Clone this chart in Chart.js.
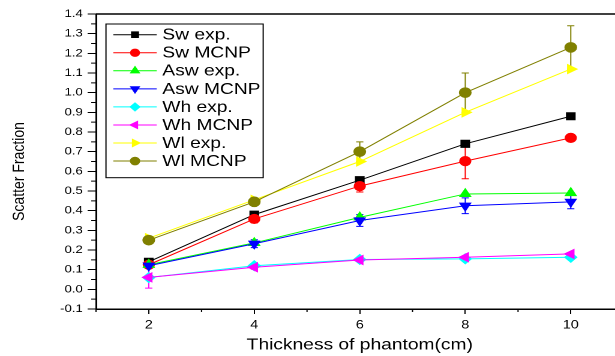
<!DOCTYPE html>
<html>
<head>
<meta charset="utf-8">
<script src="https://cdn.jsdelivr.net/npm/chart.js@4.4.1/dist/chart.umd.min.js"></script>
<style>
html, body { margin: 0; padding: 0; background: #fff; overflow: hidden; }
#wrap { width: 615px; height: 356px; overflow: hidden; position: relative; }
/* the source picture is stretched sideways, so the canvas is too */
#c { position: absolute; left: 0; top: 0; transform: scaleX(1.2); transform-origin: 0 0; }
</style>
</head>
<body>
<div id="wrap"><canvas id="c" width="530" height="356"></canvas></div>
<script>
// ---- data ----
const thickness = [2, 4, 6, 8, 10];
const xTicks = [2, 4, 6, 8, 10];
const yTicks = [-0.1, 0.0, 0.1, 0.2, 0.3, 0.4, 0.5, 0.6, 0.7, 0.8, 0.9, 1.0, 1.1, 1.2, 1.3, 1.4];

const names = ['Sw exp.', 'Sw MCNP', 'Asw exp.', 'Asw MCNP', 'Wh exp.', 'Wh MCNP', 'Wl exp.', 'Wl MCNP'];

const swExp   = [0.14, 0.38, 0.555, 0.74, 0.88];
const swMcnp  = [0.125, 0.358, 0.525, 0.652, 0.77];
const aswExp  = [0.125, 0.236, 0.366, 0.485, 0.49];
const aswMcnp = [0.12, 0.232, 0.35, 0.425, 0.445];
const whExp   = [0.06, 0.12, 0.152, 0.155, 0.163];
const whMcnp  = [0.061, 0.112, 0.149, 0.163, 0.18];
const wlExp   = [0.26, 0.455, 0.65, 0.90, 1.12];
const wlMcnp  = [0.25, 0.445, 0.70, 1.00, 1.23];

const swMcnpErr  = [0, 0.02, 0.03, 0.09, 0];
const aswMcnpErr = [0.01, 0.02, 0.03, 0.04, 0.035];
const whMcnpErr  = [0.055, 0.01, 0, 0, 0];
const wlMcnpErr  = [0.015, 0.01, 0.05, 0.10, 0.11];

const values = [swExp, swMcnp, aswExp, aswMcnp, whExp, whMcnp, wlExp, wlMcnp];
const errors = [null, swMcnpErr, null, aswMcnpErr, null, whMcnpErr, null, wlMcnpErr];

// ---- styles ----
const colors = ['#000000', '#ff0000', '#00ff00', '#0000ff', '#00ffff', '#ff00ff', '#ffff00', '#808000'];
const marks = [
  { style: 'rect', rot: 0, r: 5 },
  { style: 'circle', rot: 0, r: 4.6 },
  { style: 'triangle', rot: 0, r: 5.2 },
  { style: 'triangle', rot: 180, r: 5.2 },
  { style: 'rectRot', rot: 0, r: 5 },
  { style: 'triangle', rot: -90, r: 5.2 },
  { style: 'triangle', rot: 90, r: 5.2 },
  { style: 'circle', rot: 0, r: 4.8 }
];

const FONT = '"Liberation Sans", Arial, sans-serif';
Chart.defaults.font.family = FONT;
Chart.defaults.color = '#000';

const datasets = names.map((n, i) => ({
  label: n,
  data: thickness.map((x, j) => ({ x: x, y: values[i][j] })),
  borderColor: colors[i],
  backgroundColor: colors[i],
  borderWidth: 1,
  pointStyle: marks[i].style,
  rotation: marks[i].rot,
  pointRadius: marks[i].r,
  pointBorderWidth: 1,
  pointBorderColor: colors[i],
  pointBackgroundColor: colors[i],
  tension: 0,
  order: names.length - 1 - i
}));

const extras = {
  id: 'extras',
  beforeDatasetsDraw(chart) {
    const ctx = chart.ctx, xs = chart.scales.x, ys = chart.scales.y;
    ctx.save();
    ctx.lineWidth = 1;
    errors.forEach((err, i) => {
      if (!err) return;
      ctx.strokeStyle = colors[i];
      err.forEach((e, j) => {
        if (!e) return;
        const px = xs.getPixelForValue(thickness[j]);
        const top = ys.getPixelForValue(values[i][j] + e);
        const bot = ys.getPixelForValue(values[i][j] - e);
        ctx.beginPath();
        ctx.moveTo(px, top); ctx.lineTo(px, bot);
        ctx.moveTo(px - 3, top); ctx.lineTo(px + 3, top);
        ctx.moveTo(px - 3, bot); ctx.lineTo(px + 3, bot);
        ctx.stroke();
      });
    });
    ctx.restore();
  },
  afterDraw(chart) {
    const ctx = chart.ctx, a = chart.chartArea, xs = chart.scales.x, ys = chart.scales.y;
    ctx.save();
    // frame
    ctx.strokeStyle = '#000';
    ctx.lineWidth = 1.5;
    ctx.beginPath();
    ctx.moveTo(a.left, a.top); ctx.lineTo(a.right, a.top); ctx.lineTo(a.right, a.bottom);
    ctx.stroke();
    // minor ticks
    ctx.lineWidth = 1;
    ctx.beginPath();
    for (let k = 0; k < yTicks.length - 1; k++) {
      const py = ys.getPixelForValue((yTicks[k] + yTicks[k + 1]) / 2);
      ctx.moveTo(a.left - 4, py); ctx.lineTo(a.left, py);
    }
    for (let k = 0; k < xTicks.length; k++) {
      const px = xs.getPixelForValue(xTicks[k] - 1);
      ctx.moveTo(px, a.bottom); ctx.lineTo(px, a.bottom + 3);
    }
    ctx.stroke();

    // axis titles
    ctx.fillStyle = '#000';
    ctx.textAlign = 'center';
    ctx.textBaseline = 'middle';
    ctx.font = '16px ' + FONT;
    ctx.fillText('Thickness of phantom(cm)', (a.left + a.right) / 2, 345);
    ctx.save();
    ctx.translate(16, 171.5);
    ctx.rotate(-Math.PI / 2);
    ctx.font = '14px ' + FONT;
    ctx.fillText('Scatter Fraction', 0, 0);
    ctx.restore();

    // legend
    const bx = 88.3, by = 24, bw = 131, bh = 153.7, rowH = 18.05;
    ctx.fillStyle = '#fff';
    ctx.fillRect(bx, by, bw, bh);
    ctx.strokeStyle = '#000';
    ctx.lineWidth = 1;
    ctx.strokeRect(bx, by, bw, bh);
    ctx.font = '16px ' + FONT;
    ctx.textAlign = 'left';
    names.forEach((n, i) => {
      const ly = by + 10.7 + rowH * i;
      ctx.strokeStyle = colors[i];
      ctx.fillStyle = colors[i];
      ctx.lineWidth = 1;
      ctx.beginPath();
      ctx.moveTo(94.4, ly); ctx.lineTo(130.6, ly);
      ctx.stroke();
      Chart.helpers.drawPoint(ctx, { pointStyle: marks[i].style, rotation: marks[i].rot, radius: marks[i].r * 0.8, borderWidth: 1 }, 112.5, ly);
      ctx.fillStyle = '#000';
      ctx.fillText(n, 135.3, ly + 0.5);
    });
    ctx.restore();
  }
};

new Chart(document.getElementById('c'), {
  type: 'line',
  data: { datasets },
  options: {
    responsive: false,
    animation: false,
    devicePixelRatio: 2,
    events: [],
    layout: { padding: { top: 14, right: 10.4, left: 0, bottom: 0 } },
    plugins: { legend: { display: false }, tooltip: { enabled: false } },
    scales: {
      x: {
        type: 'linear',
        min: 1, max: 11,
        afterBuildTicks: s => { s.ticks = xTicks.map(v => ({ value: v })); },
        afterFit: s => { s.height = 47; },
        grid: { drawOnChartArea: false, drawTicks: true, tickLength: 5, color: '#000', lineWidth: 1 },
        border: { display: true, color: '#000', width: 1.5 },
        ticks: { font: { size: 12 }, color: '#000', padding: 4, maxRotation: 0 }
      },
      y: {
        min: -0.1, max: 1.4,
        afterBuildTicks: s => { s.ticks = yTicks.map(v => ({ value: v })); },
        afterFit: s => { s.width = 80; },
        grid: { drawOnChartArea: false, drawTicks: true, tickLength: 7, color: '#000', lineWidth: 1 },
        border: { display: true, color: '#000', width: 1.5 },
        ticks: { font: { size: 11 }, color: '#000', padding: 4, callback: v => v.toFixed(1) }
      }
    }
  },
  plugins: [extras]
});
</script>
</body>
</html>
